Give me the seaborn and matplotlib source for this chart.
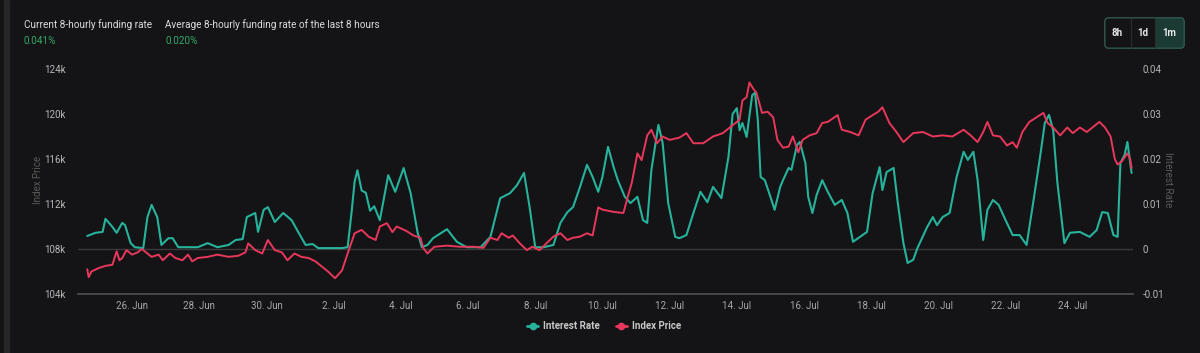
import matplotlib
matplotlib.use("Agg")
import matplotlib.pyplot as plt
import matplotlib.patches as mpatches
from matplotlib.lines import Line2D
import numpy as np
import pandas as pd
import seaborn as sns

# ---------------- data ----------------
START = pd.Timestamp("2025-06-24 00:00")

# Index price (hours since START, price in thousands USD)
price_hours = [16, 17, 19, 24, 29, 34, 37, 39, 41, 44, 48, 52, 55, 59, 62, 67, 70, 75, 79, 84,
               88, 91, 95, 102, 109, 117, 124, 129, 131, 136, 141, 145, 150, 155, 159, 164, 169,
               174, 179, 184, 188, 193, 198, 202, 207, 212, 217, 222, 225, 230, 234, 237, 244,
               249, 254, 256, 259, 264, 273, 282, 292, 299, 304, 309, 312, 317, 320, 325, 330,
               334, 339, 344, 349, 354, 359, 363, 368, 373, 377, 381, 384, 392, 399, 402, 405,
               409, 412, 416, 419, 423, 427, 432, 439, 444, 449, 456, 463, 470, 477, 482, 484,
               487, 489, 492, 494, 498, 502, 506, 509, 513, 517, 520, 524, 527, 532, 537, 541,
               545, 552, 555, 561, 567, 572, 577, 581, 584, 589, 594, 599, 606, 613, 620, 627,
               634, 642, 647, 652, 656, 659, 663, 668, 673, 677, 680, 684, 689, 694, 699, 702,
               706, 711, 716, 720, 725, 730, 734, 739, 743, 747, 750, 752, 755, 759, 761, 762]
price_k = [106.2, 105.5, 106.0, 106.3, 106.5, 106.6, 107.8, 107.0, 107.2, 107.9, 107.5, 107.7,
           108.0, 107.6, 107.3, 107.5, 107.0, 107.6, 107.2, 107.0, 107.5, 106.9, 107.2, 107.3,
           107.5, 107.3, 107.4, 107.7, 108.5, 107.9, 107.6, 108.8, 107.9, 107.7, 107.0, 107.6,
           107.3, 107.2, 106.9, 106.4, 106.0, 105.4, 106.1, 107.6, 109.4, 109.7, 109.1, 108.8,
           110.0, 110.3, 109.5, 110.0, 109.6, 109.2, 109.0, 108.1, 107.6, 108.2, 108.3, 108.2,
           108.2, 108.1, 109.0, 108.8, 109.4, 109.0, 109.2, 108.5, 107.9, 108.2, 107.9, 108.5,
           109.1, 109.4, 108.8, 109.0, 109.1, 109.4, 109.2, 111.7, 111.5, 111.3, 111.2, 112.6,
           113.9, 116.5, 115.9, 118.1, 118.6, 117.4, 118.0, 117.7, 117.9, 118.3, 117.4, 117.4,
           118.0, 118.3, 119.0, 119.5, 121.2, 121.5, 122.8, 122.2, 121.9, 120.1, 120.2, 119.7,
           117.7, 117.0, 117.1, 118.0, 116.6, 117.7, 118.1, 118.3, 119.2, 119.3, 119.9, 118.6,
           118.4, 118.1, 119.5, 119.9, 120.2, 120.6, 119.2, 118.4, 117.5, 118.3, 118.4, 118.0,
           118.1, 118.0, 118.6, 118.1, 117.5, 118.4, 119.3, 118.1, 118.0, 117.2, 117.5, 117.0,
           118.4, 119.3, 119.7, 120.1, 119.2, 118.8, 118.1, 118.8, 118.3, 118.8, 118.4, 118.8,
           119.3, 118.8, 118.0, 116.0, 115.5, 115.8, 116.5, 116.0, 115.2]

# Interest (funding) rate (hours since START, rate)
rate_hours = [16, 22, 27, 29, 34, 37, 41, 43, 47, 50, 56, 59, 62, 66, 69, 74, 77, 81, 88, 95,
              102, 109, 117, 122, 127, 130, 136, 138, 142, 145, 150, 156, 162, 167, 172, 177,
              181, 198, 202, 205, 207, 209, 212, 215, 218, 221, 225, 231, 236, 242, 247, 252,
              255, 259, 263, 273, 280, 287, 297, 304, 311, 318, 323, 328, 332, 336, 342, 349,
              354, 359, 363, 368, 373, 377, 381, 384, 388, 392, 395, 400, 404, 409, 413, 416,
              419, 424, 427, 431, 436, 439, 444, 449, 454, 459, 463, 469, 474, 477, 480, 482,
              484, 487, 491, 493, 495, 497, 500, 504, 507, 511, 513, 517, 519, 523, 525, 529,
              531, 534, 537, 541, 545, 550, 555, 559, 563, 568, 573, 577, 582, 584, 587, 592,
              595, 599, 602, 606, 609, 616, 620, 623, 627, 632, 637, 642, 645, 649, 652, 656,
              659, 663, 667, 672, 677, 682, 687, 692, 697, 700, 703, 706, 709, 714, 718, 725,
              732, 737, 741, 745, 749, 752, 754, 757, 759, 761, 762]
rate_vals = [0.0029, 0.0036, 0.0038, 0.0067, 0.0049, 0.0036, 0.0058, 0.0053, 0.0013, 0.0004,
             0.0002, 0.0071, 0.0098, 0.0071, 0.0009, 0.0024, 0.0024, 0.0004, 0.0004, 0.0004,
             0.0013, 0.0004, 0.0009, 0.0020, 0.0022, 0.0071, 0.0080, 0.0038, 0.0087, 0.0093,
             0.0060, 0.0080, 0.0064, 0.0036, 0.0009, 0.0011, 0.0002, 0.0002, 0.0004, 0.0087,
             0.0150, 0.0175, 0.0130, 0.0125, 0.0085, 0.0095, 0.0064, 0.0164, 0.0127, 0.0180,
             0.0124, 0.0036, 0.0004, 0.0009, 0.0024, 0.0044, 0.0016, 0.0004, 0.0004, 0.0027,
             0.0113, 0.0124, 0.0142, 0.0169, 0.0093, 0.0004, 0.0004, 0.0009, 0.0058, 0.0082,
             0.0093, 0.0138, 0.0187, 0.0160, 0.0127, 0.0160, 0.0227, 0.0182, 0.0153, 0.0116,
             0.0102, 0.0116, 0.0064, 0.0058, 0.0176, 0.0276, 0.0236, 0.0102, 0.0027, 0.0024,
             0.0031, 0.0080, 0.0127, 0.0104, 0.0138, 0.0113, 0.0204, 0.0300, 0.0313, 0.0264,
             0.0280, 0.0249, 0.0342, 0.0347, 0.0287, 0.0160, 0.0153, 0.0116, 0.0087, 0.0138,
             0.0153, 0.0180, 0.0176, 0.0231, 0.0238, 0.0191, 0.0116, 0.0080, 0.0120, 0.0153,
             0.0127, 0.0098, 0.0109, 0.0080, 0.0016, 0.0027, 0.0038, 0.0124, 0.0182, 0.0131,
             0.0171, 0.0180, 0.0102, 0.0013, -0.0031, -0.0024, 0.0002, 0.0049, 0.0071, 0.0053,
             0.0071, 0.0080, 0.0160, 0.0216, 0.0198, 0.0216, 0.0153, 0.0020, 0.0087, 0.0109,
             0.0098, 0.0064, 0.0031, 0.0031, 0.0009, 0.0109, 0.0213, 0.0280, 0.0298, 0.0264,
             0.0147, 0.0013, 0.0036, 0.0038, 0.0027, 0.0042, 0.0082, 0.0080, 0.0031, 0.0027,
             0.0191, 0.0209, 0.0238, 0.0191, 0.0169]

price_ticks_k = [104, 108, 112, 116, 120, 124]
rate_ticks = [-0.01, 0, 0.01, 0.02, 0.03, 0.04]
rate_tick_labels = ["-0.01", "0", "0.01", "0.02", "0.03", "0.04"]
date_ticks = ["2025-06-26", "2025-06-28", "2025-06-30", "2025-07-02", "2025-07-04",
              "2025-07-06", "2025-07-08", "2025-07-10", "2025-07-12", "2025-07-14",
              "2025-07-16", "2025-07-18", "2025-07-20", "2025-07-22", "2025-07-24"]

current_rate_txt = "0.041%"
avg_rate_txt = "0.020%"
periods = ["8h", "1d", "1m"]

# ---------------- style ----------------
BG = "#141416"
TEAL = "#27b29b"
RED = "#e8375b"
GREEN = "#35a86a"
SEL = "#1c3a34"

sns.set_style("dark")
plt.rcParams["font.family"] = ["Roboto", "DejaVu Sans"]
plt.rcParams["axes.facecolor"] = BG
plt.rcParams["figure.facecolor"] = BG

df_price = pd.DataFrame({"time": START + pd.to_timedelta(price_hours, unit="h"),
                         "price": np.array(price_k) * 1000})
df_rate = pd.DataFrame({"time": START + pd.to_timedelta(rate_hours, unit="h"),
                        "rate": rate_vals})

fig = plt.figure(figsize=(12, 3.53), dpi=100, facecolor=BG)
W, H = 1200, 353
ax = fig.add_axes([78 / W, 1 - 294 / H, (1133 - 78) / W, (294 - 69) / H])
ax2 = ax.twinx()

sns.lineplot(data=df_rate, x="time", y="rate", ax=ax2, color=TEAL, lw=1.5)
sns.lineplot(data=df_price, x="time", y="price", ax=ax, color=RED, lw=1.4)

ax.set_zorder(ax2.get_zorder() + 1)
ax.patch.set_visible(False)
ax2.set_facecolor(BG)

ax.set_xlim(START + pd.Timedelta(hours=9.4), START + pd.Timedelta(hours=763))
ax.set_ylim(104000, 124000)
ax2.set_ylim(-0.01, 0.04)

ax.set_yticks([v * 1000 for v in price_ticks_k])
ax.set_yticklabels([f"{v}k" for v in price_ticks_k])
ax2.set_yticks(rate_ticks)
ax2.set_yticklabels(rate_tick_labels)

dts = pd.to_datetime(date_ticks)
ax.set_xticks(dts)
ax.set_xticklabels([f"{d.day}. {d.strftime('%b')}" for d in dts])

ax.set_xlabel("")
ax.set_ylabel("")
ax2.set_xlabel("")
ax2.set_ylabel("")
ax.grid(False)
ax2.grid(False)

for a in (ax, ax2):
    for s in a.spines.values():
        s.set_visible(False)
ax2.spines["bottom"].set_visible(True)
ax2.spines["bottom"].set_color("#505050")
ax2.spines["bottom"].set_linewidth(1.2)
ax2.axhline(0, color="#3a3a3a", lw=1.0, zorder=0)

ax.tick_params(axis="y", length=0, pad=9, labelsize=7, labelcolor="#b8b8b8")
ax.tick_params(axis="x", length=0, pad=5, labelsize=7, labelcolor="#a8a8a8")
ax2.tick_params(axis="y", length=0, pad=7, labelsize=7, labelcolor="#b8b8b8")

fig.text(38 / W, 1 - 180 / H, "Index Price", rotation=90, ha="center", va="center",
         color="#5a5a5a", fontsize=7)
fig.text(1168 / W, 1 - 180 / H, "Interest Rate", rotation=270, ha="center", va="center",
         color="#5a5a5a", fontsize=7)

# header
fig.text(24 / W, 1 - 25 / H, "Current 8-hourly funding rate", ha="left", va="center",
         color="#dcdcdc", fontsize=7.2)
fig.text(24 / W, 1 - 41 / H, current_rate_txt, ha="left", va="center", color=GREEN, fontsize=7.2)
fig.text(165 / W, 1 - 25 / H, "Average 8-hourly funding rate of the last 8 hours", ha="left",
         va="center", color="#dcdcdc", fontsize=7.2)
fig.text(165 / W, 1 - 41 / H, avg_rate_txt, ha="left", va="center", color=GREEN, fontsize=7.2)

# left strip
fig.patches.append(mpatches.Rectangle((4 / W, 0), 5 / W, 1, transform=fig.transFigure,
                                      color="#262627", zorder=0))

# period buttons
bax = fig.add_axes([1104 / W, 1 - 49 / H, 81 / W, 32 / H])
bax.set_xlim(0, 81)
bax.set_ylim(0, 32)
bax.axis("off")
bax.add_patch(mpatches.FancyBboxPatch((51, 0.8), 29.2, 30.4,
                                      boxstyle="round,pad=0,rounding_size=4",
                                      fc=SEL, ec="none"))
bax.add_patch(mpatches.Rectangle((51, 0.8), 6, 30.4, fc=SEL, ec="none"))
bax.add_patch(mpatches.FancyBboxPatch((0.8, 0.8), 79.4, 30.4,
                                      boxstyle="round,pad=0,rounding_size=4",
                                      fc="none", ec="#2e5a50", lw=1.0))
bax.plot([27, 27], [0.8, 31.2], color="#2b2f2e", lw=0.8)
bax.plot([51, 51], [0.8, 31.2], color="#2b2f2e", lw=0.8)
for cx, lab in zip([13.5, 39, 65.5], periods):
    bax.text(cx, 16, lab, ha="center", va="center", color="#e8e8e8", fontsize=7,
             fontweight="bold")

# legend
handles = [Line2D([0], [0], color=TEAL, lw=2, marker="o", markersize=4.5),
           Line2D([0], [0], color=RED, lw=2, marker="o", markersize=4.5)]
fig.legend(handles, ["Interest Rate", "Index Price"], loc="center",
           bbox_to_anchor=(604 / W, 1 - 326 / H), ncol=2, frameon=False,
           handlelength=1.2, handletextpad=0.5, columnspacing=1.6,
           prop={"size": 7, "weight": "bold"}, labelcolor="#c8c8c8")

fig.savefig("out.png", dpi=100, facecolor=BG)
